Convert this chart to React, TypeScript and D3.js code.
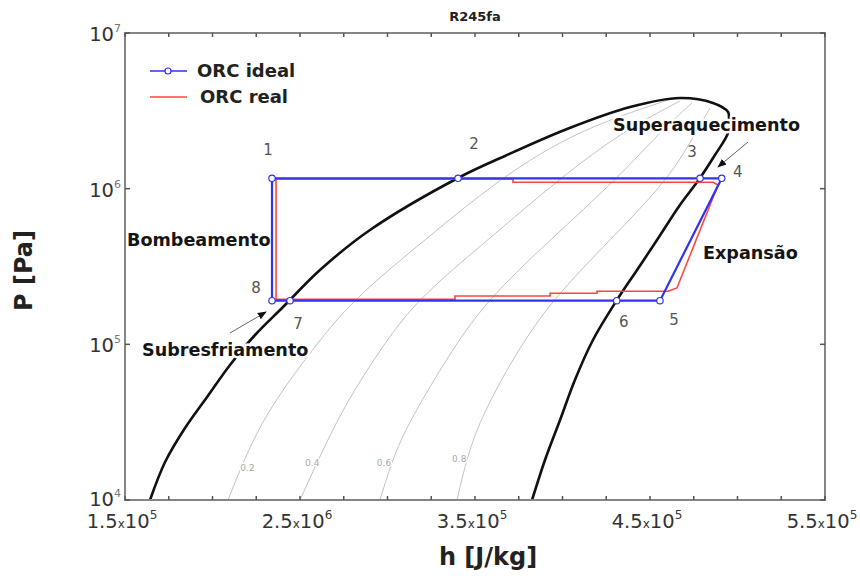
import React from "react";
import * as d3 from "d3";

const W = 860;
const H = 581;

// ---- axis ticks ----
const xTickValues = [1.5e5, 2.5e5, 3.5e5, 4.5e5, 5.5e5];
const xTickMantissa = ["1.5", "2.5", "3.5", "4.5", "5.5"];
const xTickExponent = ["5", "6", "5", "5", "5"];
const yTickValues = [1e4, 1e5, 1e6, 1e7];
const yTickExponent = ["4", "5", "6", "7"];

// ---- saturation dome (h [J/kg], P [Pa]) ----
const liquidH = [1.643e5, 1.729e5, 1.843e5, 1.969e5, 2.1e5, 2.243e5, 2.403e5, 2.614e5, 2.9e5, 3.403e5, 3.671e5, 4.026e5, 4.386e5, 4.671e5, 4.86e5, 4.946e5];
const liquidP = [1e4, 1.754e4, 2.901e4, 4.588e4, 7.368e4, 1.148e5, 1.737e5, 3.002e5, 5.427e5, 1.171e6, 1.622e6, 2.417e6, 3.346e6, 3.823e6, 3.55e6, 3.108e6];
const vaporH = [4.951e5, 4.946e5, 4.871e5, 4.786e5, 4.671e5, 4.54e5, 4.426e5, 4.311e5, 4.174e5, 4.071e5, 3.986e5, 3.9e5, 3.826e5];
const vaporP = [2.761e6, 2.279e6, 1.645e6, 1.171e6, 7.857e5, 4.681e5, 3.002e5, 1.926e5, 1.066e5, 5.901e4, 3.266e4, 1.807e4, 1e4];

// ---- quality lines ----
const qualityNames = ["0.2", "0.4", "0.6", "0.8"];
const qualityP = [1e4, 2.256e4, 4.39e4, 9.197e4, 1.926e5, 4.681e5, 1.171e6, 2.382e6];
const q02H = [2.089e5, 2.214e5, 2.357e5, 2.569e5, 2.797e5, 3.214e5, 3.643e5, 4.089e5];
const q04H = [2.5e5, 2.643e5, 2.774e5, 2.957e5, 3.163e5, 3.574e5, 3.986e5, 4.357e5];
const q06H = [2.957e5, 3.054e5, 3.197e5, 3.369e5, 3.569e5, 3.929e5, 4.317e5, 4.569e5];
const q08H = [3.397e5, 3.471e5, 3.586e5, 3.746e5, 3.94e5, 4.271e5, 4.614e5, 4.769e5];
const qualityEndH = [4.603e5, 4.671e5, 4.74e5, 4.843e5];
const qualityEndP = [3.711e6, 3.657e6, 3.55e6, 3.298e6];
const qualityLabelH = [2.2e5, 2.57e5, 2.98e5, 3.41e5];
const qualityLabelP = [1.629e4, 1.75e4, 1.73e4, 1.85e4];

// ---- ORC ideal cycle ----
const idealLabels = ["1", "2", "3", "4", "5", "6", "7", "8"];
const idealH = [2.34e5, 3.403e5, 4.786e5, 4.91e5, 4.557e5, 4.31e5, 2.443e5, 2.34e5];
const idealP = [1.166e6, 1.166e6, 1.166e6, 1.166e6, 1.907e5, 1.907e5, 1.907e5, 1.907e5];

// ---- ORC real cycle ----
const realH = [2.363e5, 2.363e5, 3.717e5, 3.717e5, 4.86e5, 4.889e5, 4.654e5, 4.603e5, 4.197e5, 4.197e5, 3.929e5, 3.929e5, 3.386e5, 3.386e5, 2.363e5];
const realP = [1.947e5, 1.154e6, 1.154e6, 1.099e6, 1.099e6, 1.056e6, 2.301e5, 2.191e5, 2.191e5, 2.128e5, 2.128e5, 2.044e5, 2.044e5, 1.947e5, 1.947e5];

// label offsets (px) for the state point numbers
const labelDX = [-4, 16, -8, 16, 14, 7, 8, -16];
const labelDY = [-29, -35, -27, -7, 19, 21, 23, -13];

const FONT = "'DejaVu Sans', Verdana, sans-serif";
const BLUE = "#3232ec";
const RED = "#ff4444";

export default function App() {
  const m = { left: 125, right: 825, top: 33, bottom: 500 };
  const x = d3.scaleLinear().domain([1.5e5, 5.5e5]).range([m.left, m.right]);
  const y = d3.scaleLog().domain([1e4, 1e7]).range([m.bottom, m.top]);

  const smooth = d3
    .line<[number, number]>()
    .x((d) => x(d[0]))
    .y((d) => y(d[1]))
    .curve(d3.curveCatmullRom.alpha(0.5));
  const basis = d3
    .line<[number, number]>()
    .x((d) => x(d[0]))
    .y((d) => y(d[1]))
    .curve(d3.curveBasis);
  const straight = d3
    .line<[number, number]>()
    .x((d) => x(d[0]))
    .y((d) => y(d[1]));

  const dome: [number, number][] = [
    ...liquidH.map((h, i) => [h, liquidP[i]] as [number, number]),
    ...vaporH.map((h, i) => [h, vaporP[i]] as [number, number]),
  ];

  const qualityH = [q02H, q04H, q06H, q08H];
  const qualityLines = qualityH.map((hs, k) => [
    ...hs.map((h, i) => [h, qualityP[i]] as [number, number]),
    [qualityEndH[k], qualityEndP[k]] as [number, number],
  ]);

  const ideal: [number, number][] = idealH.map((h, i) => [h, idealP[i]]);
  const idealClosed = [...ideal, ideal[0]];
  const real: [number, number][] = realH.map((h, i) => [h, realP[i]]);

  const xMinor = d3.range(1.5e5, 5.5e5 + 1, 2.5e4);

  const halo = { stroke: "#fff", strokeWidth: 5, paintOrder: "stroke" as const, strokeLinejoin: "round" as const };

  return (
    <svg width={W} height={H} style={{ position: "absolute", left: 0, top: 0, background: "#fff" }} fontFamily={FONT}>
      <defs>
        <marker id="arr" viewBox="0 0 10 10" refX="9" refY="5" markerWidth="9" markerHeight="9" orient="auto">
          <path d="M0,1 L10,5 L0,9 z" fill="#111" />
        </marker>
      </defs>
      <rect x={0} y={0} width={W} height={H} fill="#fff" />

      {/* title */}
      <text x={(m.left + m.right) / 2} y={21} textAnchor="middle" fontSize={13} fontWeight="bold" fill="#222">
        R245fa
      </text>

      {/* quality lines */}
      {qualityLines.map((pts, k) => (
        <path key={"q" + k} d={basis(pts) || ""} fill="none" stroke="#bbb" strokeWidth={0.9} />
      ))}
      {qualityNames.map((q, k) => (
        <text key={"ql" + k} x={x(qualityLabelH[k])} y={y(qualityLabelP[k]) + 3.5} textAnchor="middle" fontSize={9} fill="#aaa" {...halo} strokeWidth={3}>
          {q}
        </text>
      ))}

      {/* saturation dome */}
      <path d={smooth(dome) || ""} fill="none" stroke="#111" strokeWidth={2.6} />

      {/* annotations with white halo */}
      <g fontSize={17.6} fontWeight="bold" fill="#151515">
        <text x={127} y={246} {...halo} strokeWidth={1}>Bombeamento</text>
        <text x={142} y={356} {...halo}>Subresfriamento</text>
        <text x={613} y={131} {...halo}>Superaquecimento</text>
        <text x={703} y={259} {...halo}>Expansão</text>
      </g>

      {/* annotation arrows */}
      <line x1={230} y1={333} x2={266} y2={312} stroke="#666" strokeWidth={1} markerEnd="url(#arr)" />
      <line x1={748} y1={142} x2={718} y2={167} stroke="#666" strokeWidth={1} markerEnd="url(#arr)" />

      {/* real cycle */}
      <path d={straight(real) || ""} fill="none" stroke={RED} strokeWidth={1.6} />
      {/* ideal cycle */}
      <path d={straight(idealClosed) || ""} fill="none" stroke={BLUE} strokeWidth={2.2} />
      {ideal.map((d, i) => (
        <circle key={"pt" + i} cx={x(d[0])} cy={y(d[1])} r={3.2} fill="#fff" stroke={BLUE} strokeWidth={1.2} />
      ))}
      {ideal.map((d, i) => (
        <text key={"pl" + i} x={x(d[0]) + labelDX[i]} y={y(d[1]) + labelDY[i] + 5.5} textAnchor="middle" fontSize={15} fill="#555">
          {idealLabels[i]}
        </text>
      ))}

      {/* frame */}
      <rect x={m.left} y={m.top} width={m.right - m.left} height={m.bottom - m.top} fill="none" stroke="#858585" strokeWidth={2} />
      {xMinor.map((v, i) => (
        <g key={"xt" + i}>
          <line x1={x(v)} x2={x(v)} y1={m.bottom} y2={m.bottom - 4} stroke="#555" strokeWidth={1.5} />
          <line x1={x(v)} x2={x(v)} y1={m.top} y2={m.top + 4} stroke="#555" strokeWidth={1.5} />
        </g>
      ))}
      {yTickValues.map((v, i) => (
        <g key={"yt" + i}>
          <line x1={m.left} x2={m.left + 5} y1={y(v)} y2={y(v)} stroke="#555" strokeWidth={1.5} />
          <line x1={m.right} x2={m.right - 5} y1={y(v)} y2={y(v)} stroke="#555" strokeWidth={1.5} />
        </g>
      ))}

      {/* x tick labels */}
      {xTickValues.map((v, i) => (
        <text key={"xl" + i} x={x(v) - 3} y={528} textAnchor="middle" fontSize={19.5} fill="#333">
          <tspan>{xTickMantissa[i]}</tspan>
          <tspan fontSize={12}>x</tspan>
          <tspan>10</tspan>
          <tspan fontSize={12} dy={-9}>{xTickExponent[i]}</tspan>
        </text>
      ))}
      {/* y tick labels */}
      {yTickValues.map((v, i) => (
        <text key={"yl" + i} x={121} y={y(v) + (i === 0 ? 6 : 8)} textAnchor="end" fontSize={19.5} fill="#333">
          <tspan>10</tspan>
          <tspan fontSize={11} dy={-9} fill="#777">{yTickExponent[i]}</tspan>
        </text>
      ))}

      {/* axis titles */}
      <text x={488} y={565} textAnchor="middle" fontSize={24} fontWeight="bold" fill="#222">
        h [J/kg]
      </text>
      <text transform={`translate(32,${(m.top + m.bottom) / 2 + 4}) rotate(-90)`} textAnchor="middle" fontSize={24} fontWeight="bold" fill="#222">
        P [Pa]
      </text>

      {/* legend */}
      <line x1={150} x2={187} y1={71} y2={71} stroke={BLUE} strokeWidth={1.5} />
      <circle cx={168} cy={71} r={3} fill="#fff" stroke={BLUE} strokeWidth={1.2} />
      <text x={197} y={77} fontSize={18} fontWeight="bold" fill="#222">ORC ideal</text>
      <line x1={150} x2={187} y1={97} y2={97} stroke={RED} strokeWidth={1.5} />
      <text x={200} y={103} fontSize={18} fontWeight="bold" fill="#222">ORC real</text>
    </svg>
  );
}
